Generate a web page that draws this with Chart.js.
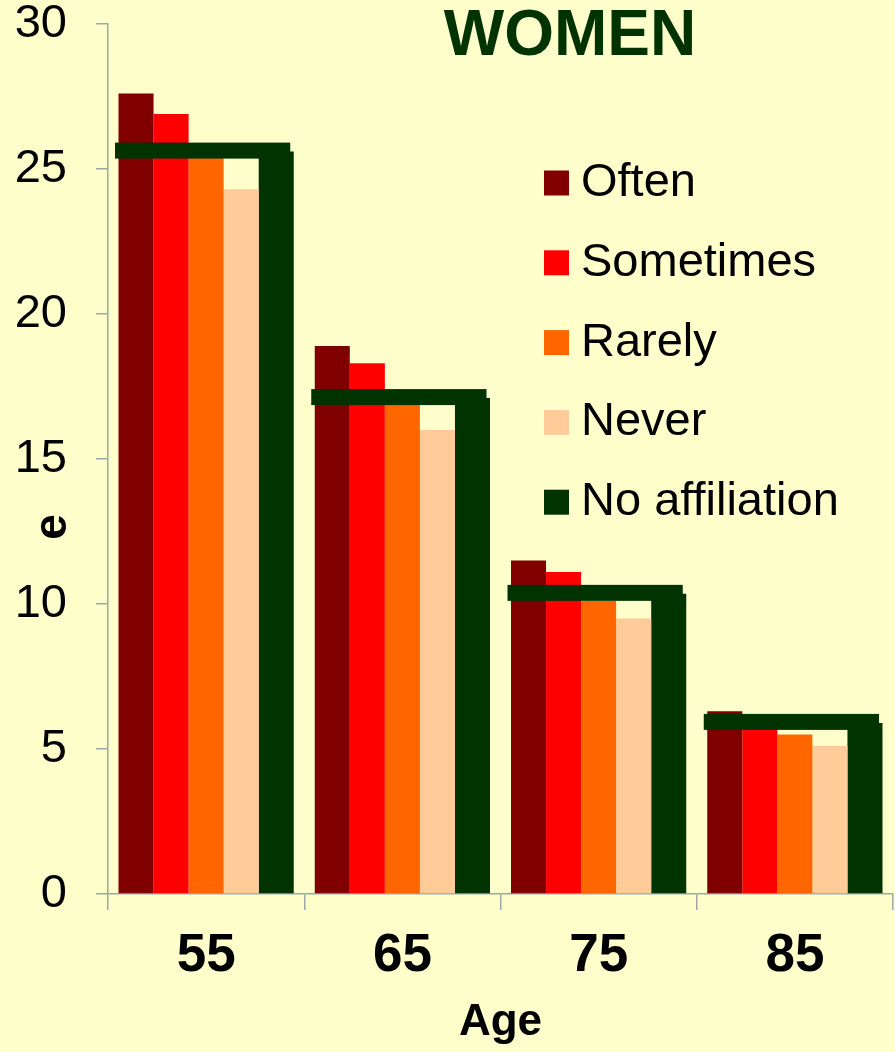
<!DOCTYPE html>
<html>
<head>
<meta charset="utf-8">
<script src="https://cdn.jsdelivr.net/npm/chart.js@4.4.1/dist/chart.umd.min.js"></script>
<style>
  html, body { margin: 0; padding: 0; background: #FFFFCC; }
  #wrap { width: 895px; height: 1052px; }
  canvas { display: block; }
</style>
</head>
<body>
<div id="wrap"><canvas id="c" width="895" height="1052"></canvas></div>
<script>
// Remaining life expectancy (e) by age and frequency of religious attendance
const ages = ['55', '65', '75', '85'];
const often = [27.6, 18.9, 11.5, 6.3];
const sometimes = [26.9, 18.3, 11.1, 5.9];
const rarely = [25.5, 16.9, 10.1, 5.5];
const never = [24.3, 16.0, 9.5, 5.1];
const noAffiliation = [25.6, 17.1, 10.35, 5.9];
const yTickValues = [0, 5, 10, 15, 20, 25, 30];

const seriesNames = ['Often', 'Sometimes', 'Rarely', 'Never', 'No affiliation'];
const seriesColors = ['#800000', '#FF0000', '#FF6600', '#FFCC99', '#003300'];

const FONT = '"Liberation Sans", Arial, sans-serif';
const AXIS_GREY = '#9AA8A8';

// Thick horizontal band marking the no-affiliation level across each age group
const bandPlugin = {
  id: 'noAffiliationBand',
  afterDatasetsDraw(chart) {
    const ctx = chart.ctx;
    const first = chart.getDatasetMeta(0).data;
    const last = chart.getDatasetMeta(4).data;
    ctx.save();
    ctx.fillStyle = seriesColors[4];
    last.forEach((bar, i) => {
      const left = first[i].x - first[i].width / 2 - 3.5;
      const right = bar.x + bar.width / 2 - 3.5;
      const yc = bar.y - 1;
      ctx.fillRect(left, yc - 8, right - left, 16);
    });
    ctx.restore();
  }
};

// Heading, rotated y label and the in-plot legend
const decorPlugin = {
  id: 'decor',
  afterDraw(chart) {
    const ctx = chart.ctx;
    const area = chart.chartArea;
    ctx.save();

    ctx.fillStyle = '#003300';
    ctx.font = 'bold 64px ' + FONT;
    ctx.textAlign = 'center';
    ctx.textBaseline = 'alphabetic';
    ctx.fillText('WOMEN', 570, 55);

    ctx.fillStyle = '#000000';
    ctx.font = 'bold 46px ' + FONT;
    ctx.translate(area.left - 55, area.top + 503);
    ctx.rotate(-Math.PI / 2);
    ctx.textBaseline = 'middle';
    ctx.fillText('e', 0, 0);
    ctx.setTransform(1, 0, 0, 1, 0, 0);

    ctx.font = '47px ' + FONT;
    ctx.textAlign = 'left';
    ctx.textBaseline = 'middle';
    chart.data.datasets.forEach((ds, i) => {
      const cy = 183 + i * 79.8;
      ctx.fillStyle = ds.backgroundColor;
      ctx.fillRect(544, cy - 12.5, 25, 25);
      ctx.fillStyle = '#000000';
      ctx.fillText(ds.label, 581, cy);
    });
    ctx.restore();
  }
};

const seriesValues = [often, sometimes, rarely, never, noAffiliation];

new Chart(document.getElementById('c'), {
  type: 'bar',
  data: {
    labels: ages,
    datasets: seriesNames.map((name, i) => ({
      label: name,
      data: seriesValues[i],
      backgroundColor: seriesColors[i],
      borderWidth: 0,
      categoryPercentage: 0.893,
      barPercentage: 1.0
    }))
  },
  options: {
    responsive: false,
    animation: false,
    devicePixelRatio: 1,
    layout: { padding: { top: 24, right: 2, left: 0, bottom: 0 } },
    plugins: {
      legend: { display: false },
      tooltip: { enabled: false },
      title: { display: false }
    },
    scales: {
      x: {
        offset: true,
        grid: { display: true, offset: true, drawOnChartArea: false, color: AXIS_GREY, lineWidth: 1.5, tickLength: 16 },
        border: { display: true, color: AXIS_GREY, width: 1.5 },
        ticks: { color: '#000000', font: { family: FONT, size: 53, weight: 'bold', lineHeight: 1.2 }, padding: 15, maxRotation: 0 },
        title: { display: true, text: 'Age', color: '#000000', font: { family: FONT, size: 44, weight: 'bold', lineHeight: 1.2 }, padding: { top: 0, bottom: 3 } },
        afterFit(scale) { scale.height = 158; scale.paddingLeft = 0; scale.paddingRight = 0; }
      },
      y: {
        min: 0,
        max: 30,
        afterBuildTicks(scale) { scale.ticks = yTickValues.map(v => ({ value: v })); },
        grid: { display: true, drawOnChartArea: false, color: AXIS_GREY, lineWidth: 1.5, tickLength: 12 },
        border: { display: true, color: AXIS_GREY, width: 1.5 },
        ticks: { color: '#000000', font: { family: FONT, size: 47, lineHeight: 1 }, padding: 29 },
        afterFit(scale) { scale.width = 108; scale.paddingTop = 0; scale.paddingBottom = 0; }
      }
    }
  },
  plugins: [bandPlugin, decorPlugin]
});
</script>
</body>
</html>
